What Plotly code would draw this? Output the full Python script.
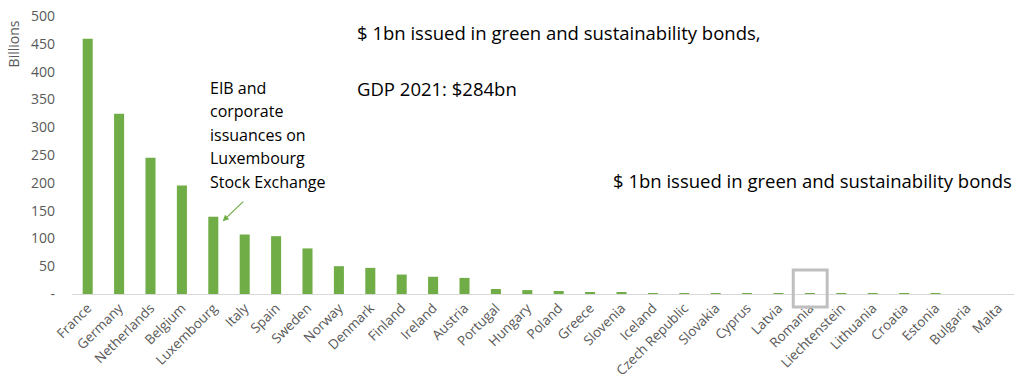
import plotly.graph_objects as go

countries = ["France", "Germany", "Netherlands", "Belgium", "Luxembourg", "Italy", "Spain",
             "Sweden", "Norway", "Denmark", "Finland", "Ireland", "Austria", "Portugal",
             "Hungary", "Poland", "Greece", "Slovenia", "Iceland", "Czech Republic",
             "Slovakia", "Cyprus", "Latvia", "Romania", "Liechtenstein", "Lithuania",
             "Croatia", "Estonia", "Bulgaria", "Malta"]
values = [459, 324, 245, 195, 139, 107, 104, 82, 50, 47, 35, 31, 29, 9, 7, 5.4, 3.5, 3.5,
          1, 1, 1, 1, 1, 1, 1, 1, 1, 1, 0, 0]
ytick_vals = [0, 50, 100, 150, 200, 250, 300, 350, 400, 450, 500]
ytick_text = ["-", "50", "100", "150", "200", "250", "300", "350", "400", "450", "500"]
eib_lines = ["EIB and", "corporate", "issuances on", "Luxembourg", "Stock Exchange"]

GREEN = "#70ad47"
GRAY = "#595959"
FONT = "Open Sans"

fig = go.Figure(go.Bar(x=countries, y=values, marker=dict(color=GREEN, line=dict(width=0)),
                       width=0.32))

fig.update_layout(
    width=1020, height=380,
    margin=dict(l=72, r=6, t=16, b=86),
    plot_bgcolor="white", paper_bgcolor="white",
    showlegend=False,
    font=dict(family=FONT, color=GRAY),
    xaxis=dict(tickangle=-45, tickfont=dict(size=13.5, color=GRAY), showgrid=False,
               showline=True, linecolor="#d9d9d9", linewidth=1, ticks="",
               automargin=False, range=[-0.5, len(countries) - 0.5]),
    yaxis=dict(range=[0, 500], tickvals=ytick_vals, ticktext=ytick_text, showgrid=False,
               zeroline=False, showline=False, ticks="", ticklabelstandoff=16,
               automargin=False, tickfont=dict(size=14, color=GRAY)),
)

# Y axis title
fig.add_annotation(text="Billions", xref="paper", yref="paper", x=-0.062, y=0.9,
                   xanchor="center", yanchor="middle",
                   textangle=-90, showarrow=False, font=dict(size=14, color=GRAY))

# top texts
fig.add_annotation(text="$ 1bn issued in green and sustainability bonds,", xref="paper",
                   yref="paper", x=0.3, y=0.94, xanchor="left", yanchor="middle",
                   showarrow=False, font=dict(size=18.5, color="black"))
fig.add_annotation(text="GDP 2021: $284bn", xref="paper", yref="paper", x=0.3, y=0.74,
                   xanchor="left", yanchor="middle", showarrow=False,
                   font=dict(size=18.5, color="black"))
fig.add_annotation(text="$ 1bn issued in green and sustainability bonds", xref="paper",
                   yref="paper", x=1.0, y=0.41, xanchor="right", yanchor="middle",
                   showarrow=False, font=dict(size=18.5, color="black"))

# EIB note
for i, line in enumerate(eib_lines):
    fig.add_annotation(text=line, xref="paper", yref="paper", x=0.144, y=0.741 - i * 0.0845,
                       xanchor="left", yanchor="middle", showarrow=False,
                       font=dict(size=16, color="black"))

lux = countries.index("Luxembourg")
fig.add_annotation(x=lux + 0.3, y=131, xref="x", yref="y", ax=22, ay=-21, text="",
                   showarrow=True, arrowhead=2, arrowsize=1, arrowwidth=1.2,
                   arrowcolor=GREEN)

rom = countries.index("Romania")
fig.add_shape(type="rect", xref="x", yref="paper", x0=rom - 0.53, x1=rom + 0.55,
              y0=-0.047, y1=0.086, line=dict(color="#bfbfbf", width=3))

fig.write_html("out.html", config={"displayModeBar": False},
               post_script="document.body.style.margin='0';document.body.style.overflow='hidden';")
